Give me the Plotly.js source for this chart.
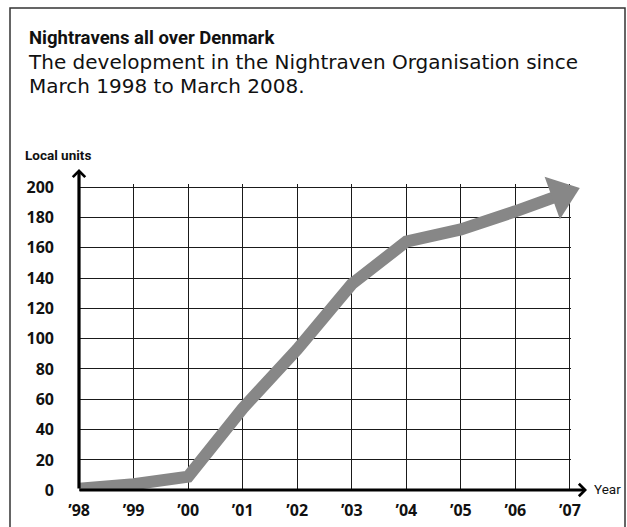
<!DOCTYPE html>
<html>
<head>
<meta charset="utf-8">
<script src="https://cdn.plot.ly/plotly-3.0.1.min.js"></script>
<style>html,body{margin:0;padding:0;background:#fff;}#chart{width:627px;height:527px;}</style>
</head>
<body>
<div id="chart"></div>
<script>
// ---- data ----
var years = ['\u201998','\u201999','\u201900','\u201901','\u201902','\u201903','\u201904','\u201905','\u201906','\u201907'];
var localUnits = [1, 4, 9, 54, 93, 136, 164, 172, 184, 197];
var yTicks = [0, 20, 40, 60, 80, 100, 120, 140, 160, 180, 200];

var titleText = 'Nightravens all over Denmark';
var subLine1 = 'The development in the Nightraven Organisation since';
var subLine2 = 'March 1998 to March 2008.';
var yTitle = 'Local units';
var xTitle = 'Year';

// ---- layout helpers ----
var W = 627, H = 527;
var M = {l: 78, r: 56, t: 184, b: 36};
var PW = W - M.l - M.r, PH = H - M.t - M.b;
function px(p) { return (p - M.l) / PW; }
function py(q) { return (H - M.b - q) / PH; }

var lineColor = '#878787';
var n = localUnits.length;
var isLast = localUnits.map(function(v, i){ return i === n - 1; });
var markerSizes = isLast.map(function(l){ return l ? 39 : 0; });
var markerStandoff = isLast.map(function(l){ return l ? 9 : 0; });

var trace = {
  type: 'scatter',
  mode: 'lines+markers',
  x: years,
  y: localUnits,
  cliponaxis: false,
  line: {color: lineColor, width: 12, backoff: 0},
  marker: {symbol: 'triangle-up', angleref: 'previous', standoff: markerStandoff, size: markerSizes,
           color: lineColor, opacity: 1, line: {width: 0}},
  hoverinfo: 'skip',
  showlegend: false
};

var tickFont = {family: 'Open Sans, sans-serif', size: 16, color: '#111', weight: 'bold'};

var headerText = '<span style="font-family:Roboto, sans-serif;font-size:18.5px;font-weight:bold">' + titleText + '</span>' +
                 '<br><span style="font-size:20px">' + subLine1 + '</span>' +
                 '<br><span style="font-size:20px">' + subLine2 + '</span>';

var layout = {
  width: W, height: H,
  margin: M,
  paper_bgcolor: '#fff',
  plot_bgcolor: '#fff',
  showlegend: false,
  xaxis: {
    type: 'category',
    range: [-0.02, n - 1 + 0.02],
    showgrid: true, gridcolor: '#1a1a1a', gridwidth: 1,
    zeroline: false, showline: false, ticks: '',
    tickfont: tickFont,
    ticklabelstandoff: 8,
    fixedrange: true
  },
  yaxis: {
    range: [-0.5, 202],
    tickvals: yTicks,
    ticktext: yTicks.map(String),
    showgrid: true, gridcolor: '#1a1a1a', gridwidth: 1,
    zeroline: false, showline: false, ticks: '',
    tickfont: tickFont,
    ticklabelstandoff: 23,
    fixedrange: true
  },
  shapes: [
    {type: 'rect', xref: 'paper', yref: 'paper', x0: px(10), x1: px(625), y0: py(570), y1: py(8),
     line: {color: '#333', width: 1.5}, fillcolor: 'rgba(0,0,0,0)', layer: 'above'}
  ],
  annotations: [
    {xref: 'paper', yref: 'paper', x: px(26), y: py(25), xanchor: 'left', yanchor: 'top', align: 'left', showarrow: false,
     text: headerText, font: {family: 'DejaVu Sans, sans-serif', size: 19, color: '#111'}},
    {xref: 'paper', yref: 'paper', x: px(23), y: py(154.5), xanchor: 'left', yanchor: 'middle', showarrow: false,
     text: yTitle, font: {family: 'Roboto, sans-serif', size: 13.5, color: '#111', weight: 'bold'}},
    {xref: 'paper', yref: 'paper', x: px(592), y: py(489), xanchor: 'left', yanchor: 'middle', showarrow: false,
     text: xTitle, font: {family: 'Roboto, sans-serif', size: 13.5, color: '#111'}},
    // y axis arrow
    {xref: 'paper', yref: 'paper', x: px(79), y: py(169), axref: 'pixel', ayref: 'pixel', ax: 0, ay: 321,
     text: '', showarrow: true, arrowhead: 4, arrowsize: 0.75, arrowwidth: 3.2, arrowcolor: '#000', standoff: 0, startstandoff: 0},
    // x axis arrow
    {xref: 'paper', yref: 'paper', x: px(587), y: py(490), axref: 'pixel', ayref: 'pixel', ax: -509, ay: 0,
     text: '', showarrow: true, arrowhead: 4, arrowsize: 0.75, arrowwidth: 3.2, arrowcolor: '#000', standoff: 0, startstandoff: 0}
  ]
};

Plotly.newPlot('chart', [trace], layout, {staticPlot: true, displayModeBar: false});
</script>
</body>
</html>
